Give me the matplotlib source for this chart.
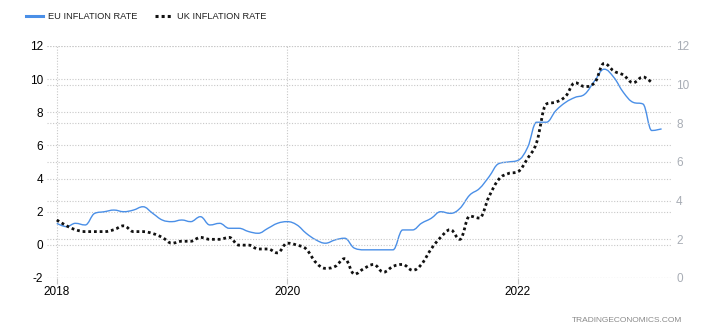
import datetime as dt
import numpy as np
import matplotlib
matplotlib.use("Agg")
import matplotlib.pyplot as plt
import matplotlib.dates as mdates
from matplotlib.path import Path
from matplotlib.patches import PathPatch
from matplotlib.lines import Line2D

plt.rcParams["font.family"] = ["Liberation Sans", "DejaVu Sans"]

# Monthly annual inflation rates, Jan 2018 onwards (%)
eu_rate = [
    1.3, 1.1, 1.3, 1.2, 1.9, 2.0, 2.1, 2.0, 2.1, 2.3, 1.9, 1.5,
    1.4, 1.5, 1.4, 1.7, 1.2, 1.3, 1.0, 1.0, 0.8, 0.7, 1.0, 1.3,
    1.4, 1.2, 0.7, 0.3, 0.1, 0.3, 0.4, -0.2, -0.3, -0.3, -0.3, -0.3,
    0.9, 0.9, 1.3, 1.6, 2.0, 1.9, 2.2, 3.0, 3.4, 4.1, 4.9, 5.0,
    5.1, 5.9, 7.4, 7.4, 8.1, 8.6, 8.9, 9.1, 9.9, 10.6, 10.1, 9.2,
    8.6, 8.5, 6.9, 7.0,
]
uk_rate = [
    3.0, 2.7, 2.5, 2.4, 2.4, 2.4, 2.5, 2.7, 2.4, 2.4, 2.3, 2.1,
    1.8, 1.9, 1.9, 2.1, 2.0, 2.0, 2.1, 1.7, 1.7, 1.5, 1.5, 1.3,
    1.8, 1.7, 1.5, 0.8, 0.5, 0.6, 1.0, 0.2, 0.5, 0.7, 0.3, 0.6,
    0.7, 0.4, 0.7, 1.5, 2.1, 2.5, 2.0, 3.2, 3.1, 4.2, 5.1, 5.4,
    5.5, 6.2, 7.0, 9.0, 9.1, 9.4, 10.1, 9.9, 10.1, 11.1, 10.7, 10.5,
    10.1, 10.4, 10.1,
]
series_labels = ["EU INFLATION RATE", "UK INFLATION RATE"]
left_ticks = [-2, 0, 2, 4, 6, 8, 10, 12]
right_ticks = [0, 2, 4, 6, 8, 10, 12]
year_ticks = [2018, 2020, 2022]


def month_dates(n, start_year=2018):
    return [dt.date(start_year + i // 12, i % 12 + 1, 1) for i in range(n)]


def spline_path(xs, ys, smoothing=1.5):
    """Smooth Bezier path through the points (spline-style control points)."""
    xs = np.asarray(xs, float)
    ys = np.asarray(ys, float)
    n = len(xs)
    denom = smoothing + 1
    lc = [(x, y) for x, y in zip(xs, ys)]
    rc = [(x, y) for x, y in zip(xs, ys)]
    for i in range(1, n - 1):
        px, py = xs[i], ys[i]
        lx, ly = xs[i - 1], ys[i - 1]
        nx, ny = xs[i + 1], ys[i + 1]
        lcx = (smoothing * px + lx) / denom
        lcy = (smoothing * py + ly) / denom
        rcx = (smoothing * px + nx) / denom
        rcy = (smoothing * py + ny) / denom
        corr = (rcy - lcy) * (rcx - px) / (rcx - lcx) + py - rcy
        lcy += corr
        rcy += corr
        if lcy > ly and lcy > py:
            lcy = max(ly, py)
            rcy = 2 * py - lcy
        elif lcy < ly and lcy < py:
            lcy = min(ly, py)
            rcy = 2 * py - lcy
        if rcy > ny and rcy > py:
            rcy = max(ny, py)
            lcy = 2 * py - rcy
        elif rcy < ny and rcy < py:
            rcy = min(ny, py)
            lcy = 2 * py - rcy
        lc[i] = (lcx, lcy)
        rc[i] = (rcx, rcy)
    verts = [(xs[0], ys[0])]
    codes = [Path.MOVETO]
    for i in range(1, n):
        verts += [rc[i - 1], lc[i], (xs[i], ys[i])]
        codes += [Path.CURVE4] * 3
    return Path(verts, codes)


eu_x = mdates.date2num(month_dates(len(eu_rate)))
uk_x = mdates.date2num(month_dates(len(uk_rate)))

eu_color = "#4a8fe7"
uk_color = "#111111"
grid_color = "#c8c8c8"

fig = plt.figure(figsize=(7.2, 3.35), dpi=100)
ax = fig.add_axes([47 / 720, 1 - 278 / 335, (672 - 47) / 720, (278 - 46) / 335])
ax2 = ax.twinx()

ax.add_patch(PathPatch(spline_path(eu_x, eu_rate), fill=False,
                       edgecolor=eu_color, lw=1.0, zorder=3))
ax2.add_patch(PathPatch(spline_path(uk_x, uk_rate), fill=False,
                        edgecolor=uk_color, lw=2.0, linestyle=(0, (1, 1.05)),
                        capstyle="butt", zorder=4))

ax.set_xlim(mdates.date2num(dt.date(2017, 12, 1)), mdates.date2num(dt.date(2023, 5, 4)))
ax.set_ylim(-2, 12)
ax2.set_ylim(0, 12)

ax.set_xticks(mdates.date2num([dt.date(y, 1, 1) for y in year_ticks]))
ax.set_xticklabels([str(y) for y in year_ticks])
ax.set_yticks(left_ticks)
ax.set_yticklabels([str(t) for t in left_ticks])
ax2.set_yticks(right_ticks)
ax2.set_yticklabels([str(t) for t in right_ticks])

for a in (ax, ax2):
    for s in a.spines.values():
        s.set_visible(False)

ax.grid(axis="both", color=grid_color, linestyle=(0, (1, 1.5)), lw=0.8)
ax2.grid(axis="y", color=grid_color, linestyle=(0, (1, 1.5)), lw=0.8)
ax.set_axisbelow(True)
ax2.set_axisbelow(True)

ax.tick_params(axis="y", length=0, pad=3, labelsize=8.5, labelcolor="#000000")
ax.tick_params(axis="x", length=4, width=0.8, color=grid_color, pad=2,
               labelsize=8.5, labelcolor="#000000")
ax2.tick_params(axis="y", length=0, pad=3, labelsize=8.5, labelcolor="#a8adb5")

handles = [
    Line2D([], [], color=eu_color, lw=2.2),
    Line2D([], [], color=uk_color, lw=2.2, linestyle=(0, (1, 1))),
]
fig.legend(handles, series_labels, loc="upper left", bbox_to_anchor=(26 / 720, 1 - 12 / 335),
           ncol=2, frameon=False, fontsize=6.7, handlelength=1.8, handletextpad=0.55,
           columnspacing=1.95, borderpad=0, borderaxespad=0, labelcolor="#222222")

fig.text(682 / 720, 1 - 321 / 335, "TRADINGECONOMICS.COM", ha="right", va="center",
         fontsize=6, color="#8a8a8a")

fig.savefig("out.png", dpi=100)
